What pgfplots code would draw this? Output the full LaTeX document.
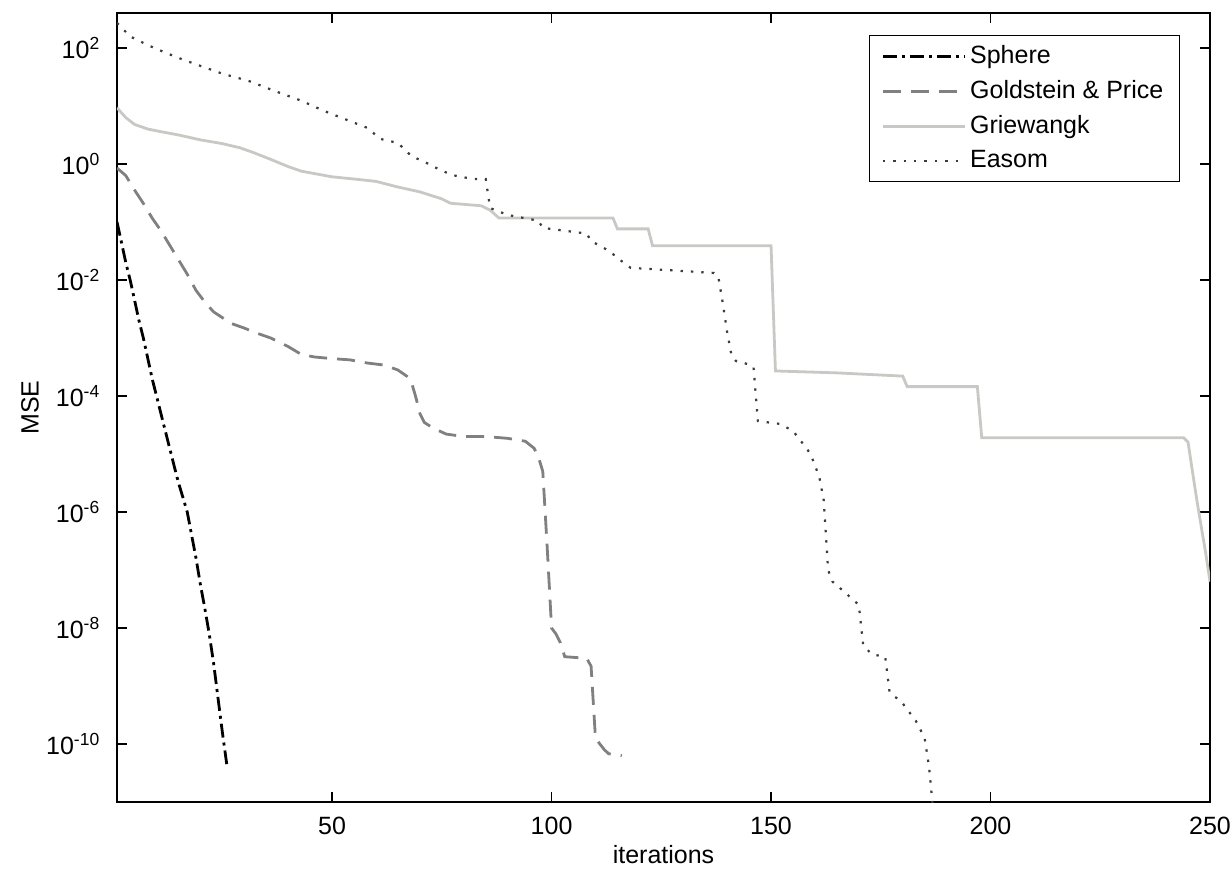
\documentclass[border=0pt]{standalone}
\usepackage{fontspec}
\setmainfont{Liberation Sans}
\usepackage{pgfplots}
\pgfplotsset{compat=1.18}

\definecolor{sphc}{RGB}{0,0,0}
\definecolor{gpc}{RGB}{128,128,128}
\definecolor{grc}{RGB}{200,200,196}
\definecolor{eac}{RGB}{60,60,60}

\begin{document}
\begin{tikzpicture}
\fontsize{12.5}{15}\selectfont
\begin{axis}[
    scale only axis,
    width=546.5pt, height=394.5pt,
    ymode=log, log basis y=10,
    xmin=1, xmax=250,
    ymin=1e-11, ymax=400,
    xtick={50,100,150,200,250},
    ytick={1e-10,1e-8,1e-6,1e-4,1e-2,1,1e2},
    minor ytick={}, minor xtick={},
    yminorticks=false,
    yticklabel={10\textsuperscript{\pgfmathparse{int(round(\tick))}\pgfmathresult}},
    /pgf/number format/assume math mode=true,
    tick align=inside,
    major tick length=5pt,
    tick style={black, line width=0.7pt},
    axis line style={black, line width=0.7pt},
    xlabel={iterations},
    ylabel={MSE},
    every axis x label/.style={at={(axis description cs:0.5,-0.0672)}, anchor=center},
    every axis y label/.style={at={(axis description cs:-0.0796,0.5)}, anchor=center, rotate=90},
    yticklabel style={xshift=-4pt},
    xticklabel style={yshift=-3pt},
    legend cell align=left,
    legend style={at={(1,1)}, anchor=north east, xshift=-15pt, yshift=-11pt,
        draw=black, line width=0.7pt, inner xsep=6pt, inner ysep=3pt,
        row sep=2.5pt, font=\fontsize{12.5}{15}\selectfont},
    legend image code/.code={\draw[#1] (0pt,0pt) -- (41pt,0pt);},
]
\coordinate (bl) at (rel axis cs:0,0);
\coordinate (tr) at (rel axis cs:1,1);

\addplot[sphc, line width=1.4pt, dash pattern=on 7pt off 2.5pt on 1.5pt off 2.5pt] coordinates {
(1,1e-1)(2,4.5e-2)(3,2e-2)(4,1e-2)(5,4.5e-3)(6,2e-3)(7,1e-3)(8,4.5e-4)(9,2e-4)(10,1e-4)
(11,5e-5)(12,2.5e-5)(13,1.26e-5)(14,6.3e-6)(15,3.2e-6)(16,1.8e-6)(17,1e-6)(18,4e-7)(19,1.6e-7)(20,5.6e-8)
(21,2.2e-8)(22,8e-9)(23,2.5e-9)(24,6.3e-10)(25,1.6e-10)(26,4.5e-11)
};
\addlegendentry{Sphere}

\addplot[gpc, line width=1.4pt, dash pattern=on 9pt off 5pt] coordinates {
(1,0.85)(3,0.63)(5,0.355)(7,0.209)(9,0.117)(11,0.0708)(13,0.0398)(15,0.0224)(17,0.0126)(19,0.0066)
(21,0.00417)(23,0.00282)(25,0.00224)(27,0.00178)(30,0.00148)(33,0.0012)(36,0.001)(40,7.1e-4)(43,5.2e-4)(46,4.7e-4)
(50,4.4e-4)(54,4.2e-4)(58,3.7e-4)(62,3.4e-4)(65,2.8e-4)(67,2.2e-4)(68,1.8e-4)(69,1e-4)(70,5e-5)(71,3.5e-5)
(73,2.8e-5)(76,2.2e-5)(80,2e-5)(85,2e-5)(90,1.86e-5)(94,1.66e-5)(96,1.26e-5)(97,8.9e-6)(98,5e-6)(99,2.5e-7)
(100,1e-8)(101,7.9e-9)(102,5.6e-9)(103,3.2e-9)(108,3e-9)(109,2.2e-9)(110,1.26e-10)(111,1e-10)(112,8e-11)(113,6.8e-11)
(116,6.3e-11)
};
\addlegendentry{Goldstein \& Price}

\addplot[grc, line width=1.4pt] coordinates {
(1,9.3)(3,6.3)(5,4.8)(8,4.0)(11,3.6)(15,3.16)(20,2.6)(25,2.24)(29,1.9)(32,1.58)
(36,1.2)(40,0.9)(43,0.75)(50,0.6)(56,0.54)(60,0.5)(65,0.4)(70,0.33)(75,0.25)(77,0.21)
(84,0.19)(86,0.16)(88,0.117)(114,0.117)(115,0.076)(122,0.076)(123,0.039)(150,0.039)(151,2.7e-4)(165,2.5e-4)
(180,2.2e-4)(181,1.45e-4)(197,1.45e-4)(198,1.9e-5)(244,1.9e-5)(245,1.6e-5)(246,5e-6)(247,1.6e-6)(248,5.6e-7)(249,2e-7)
(250,6.3e-8)
};
\addlegendentry{Griewangk}

\addplot[eac, line width=1.1pt, dash pattern=on 1.2pt off 4pt] coordinates {
(1,270)(4,158)(8,112)(12,83)(16,63)(20,49)(25,36)(31,27)(37,18)(43,12.3)
(48,8.3)(54,5.5)(58,4.2)(61,2.7)(65,2.3)(68,1.38)(72,1.0)(75,0.76)(78,0.63)(82,0.55)
(85,0.55)(86,0.174)(90,0.132)(97,0.105)(98,0.079)(108,0.063)(109,0.047)(113,0.032)(116,0.021)(118,0.0162)
(137,0.0132)(138,0.0112)(139,0.004)(140,0.00126)(141,5e-4)(142,4e-4)(145,3.5e-4)(146,3.2e-4)(147,3.7e-5)(152,3.3e-5)
(155,2.5e-5)(157,1.6e-5)(159,1e-5)(161,4e-6)(162,1.6e-6)(163,1e-7)(164,6.3e-8)(167,4e-8)(170,2.5e-8)(171,5e-9)
(173,3.5e-9)(176,3.2e-9)(177,7.9e-10)(180,5e-10)(183,2.5e-10)(185,1.26e-10)(186,4e-11)(187,6.3e-12)
};
\addlegendentry{Easom}
\end{axis}
\pgfresetboundingbox
\path ([shift={(-58.5pt,-33.5pt)}]bl) rectangle ([shift={(11pt,6.5pt)}]tr);
\end{tikzpicture}
\end{document}
